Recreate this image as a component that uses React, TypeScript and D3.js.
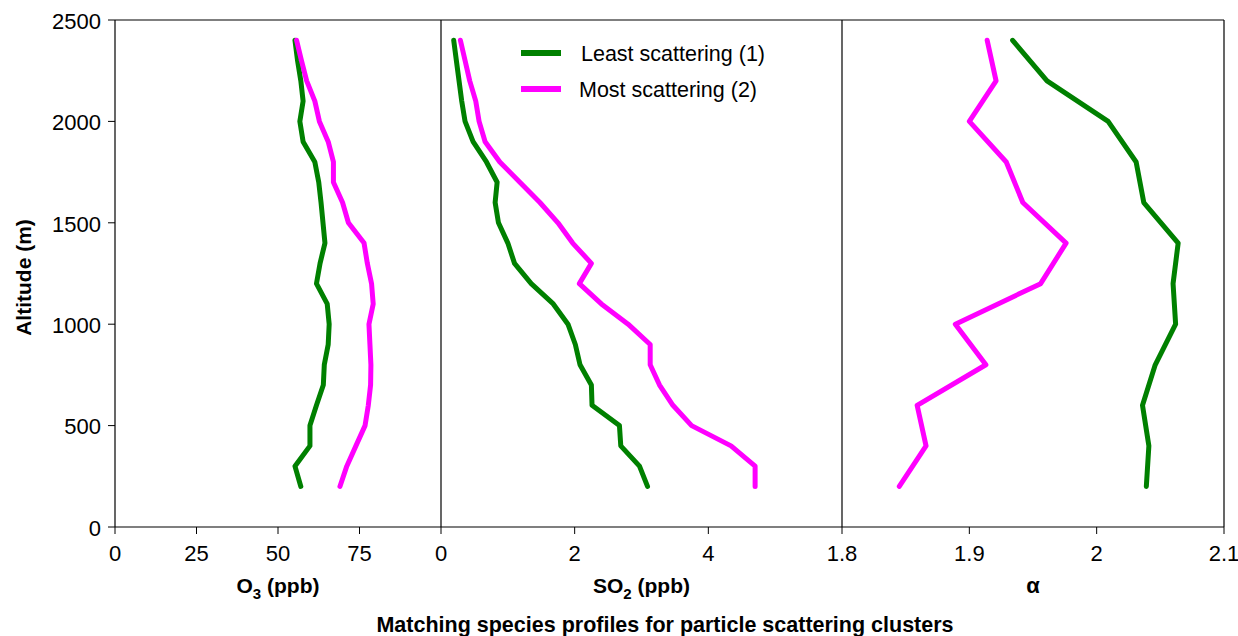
import React from "react";
import * as d3 from "d3";

// Altitude levels (m) for the O3 and SO2 profiles
const altitudes = [200, 300, 400, 500, 600, 700, 800, 900, 1000, 1100, 1200, 1300, 1400, 1500, 1600, 1700, 1800, 1900, 2000, 2100, 2200, 2300, 2400];
// Altitude levels (m) for the Angstrom exponent profiles
const alphaAltitudes = [200, 400, 600, 800, 1000, 1200, 1400, 1600, 1800, 2000, 2200, 2400];

// O3 (ppb)
const o3Least = [57, 55.2, 59.8, 59.8, 61.8, 63.9, 64.2, 65.4, 65.7, 65.1, 61.8, 62.9, 64.4, 63.8, 63.2, 62.5, 61.3, 57.7, 56.7, 57.7, 57.0, 56.0, 55.2];
const o3Most = [69, 71.1, 73.9, 76.7, 77.7, 78.4, 78.5, 78.2, 77.9, 79.2, 78.7, 77.4, 76.4, 71.6, 69.8, 67, 67, 65.4, 62.7, 61.3, 58.8, 57.2, 55.7];

// SO2 (ppb)
const so2Least = [3.09, 2.97, 2.69, 2.67, 2.26, 2.25, 2.08, 2.01, 1.9, 1.68, 1.35, 1.1, 1.0, 0.86, 0.81, 0.84, 0.68, 0.48, 0.36, 0.31, 0.27, 0.23, 0.19];
const so2Most = [4.7, 4.7, 4.34, 3.75, 3.47, 3.27, 3.13, 3.13, 2.8, 2.4, 2.07, 2.25, 1.97, 1.75, 1.48, 1.18, 0.88, 0.66, 0.57, 0.52, 0.43, 0.36, 0.29];

// Angstrom exponent (alpha)
const alphaLeast = [2.039, 2.041, 2.036, 2.046, 2.062, 2.06, 2.064, 2.037, 2.031, 2.009, 1.961, 1.934];
const alphaMost = [1.845, 1.866, 1.859, 1.913, 1.889, 1.956, 1.976, 1.942, 1.929, 1.9, 1.921, 1.914];

const yTicks = [0, 500, 1000, 1500, 2000, 2500];
const o3Ticks = [0, 25, 50, 75];
const so2Ticks = [0, 2, 4];
const alphaTicks = [1.8, 1.9, 2, 2.1];

const seriesNames = ["Least scattering (1)", "Most scattering (2)"];
const seriesColors = ["#008000", "#ff00ff"];

const W = 1238;
const H = 636;
const FONT = "'Liberation Sans', Arial, sans-serif";

const y = d3.scaleLinear().domain([0, 2500]).range([527, 20]);
const xO3 = d3.scaleLinear().domain([0, 100]).range([115, 441]);
const xSO2 = d3.scaleLinear().domain([0, 6]).range([441, 842]);
const xAlpha = d3.scaleLinear().domain([1.8, 2.1]).range([842, 1224]);

function profile(xs: d3.ScaleLinear<number, number>, alts: number[], vals: number[]) {
  const line = d3
    .line<number>()
    .x((v) => xs(v))
    .y((_, i) => y(alts[i]));
  return line(vals) || "";
}

function XTicks({ scale, ticks }: { scale: d3.ScaleLinear<number, number>; ticks: number[] }) {
  return (
    <g>
      {ticks.map((t) => (
        <g key={t} transform={`translate(${scale(t)},${y(0)})`}>
          <line y1={0} y2={7} stroke="#000" strokeWidth={1} />
          <text y={34} textAnchor="middle" fontSize={22} fontFamily={FONT} fill="#000">
            {String(t)}
          </text>
        </g>
      ))}
    </g>
  );
}

export default function App() {
  const panels = [
    { scale: xO3, alts: altitudes, least: o3Least, most: o3Most },
    { scale: xSO2, alts: altitudes, least: so2Least, most: so2Most },
    { scale: xAlpha, alts: alphaAltitudes, least: alphaLeast, most: alphaMost },
  ];
  return (
    <svg
      width={W}
      height={H}
      style={{ position: "absolute", left: 0, top: 0, background: "#fff" }}
    >
      <rect width={W} height={H} fill="#fff" />

      {/* panel frames */}
      <line x1={xO3(0)} x2={xAlpha(2.1)} y1={y(2500)} y2={y(2500)} stroke="#000" strokeWidth={1.2} />
      <line x1={xO3(0)} x2={xAlpha(2.1)} y1={y(0)} y2={y(0)} stroke="#000" strokeWidth={1.2} />
      <line x1={xO3(0)} x2={xO3(0)} y1={y(0)} y2={y(2500)} stroke="#000" strokeWidth={1.2} />
      <line x1={xSO2(0)} x2={xSO2(0)} y1={y(0)} y2={y(2500)} stroke="#000" strokeWidth={1.2} />
      <line x1={xAlpha(1.8)} x2={xAlpha(1.8)} y1={y(0)} y2={y(2500)} stroke="#000" strokeWidth={1.2} />
      <line x1={xAlpha(2.1)} x2={xAlpha(2.1)} y1={y(0)} y2={y(2500)} stroke="#000" strokeWidth={1.2} />

      {/* altitude axis */}
      {yTicks.map((t) => (
        <g key={t} transform={`translate(${xO3(0)},${y(t)})`}>
          <line x1={-7} x2={0} stroke="#000" strokeWidth={1} />
          <text x={-14} dy="0.4em" textAnchor="end" fontSize={22} fontFamily={FONT} fill="#000">
            {String(t)}
          </text>
        </g>
      ))}
      <text
        transform={`translate(31,${(y(0) + y(2500)) / 2 + 4}) rotate(-90)`}
        textAnchor="middle"
        fontSize={21}
        fontWeight="bold"
        fontFamily={FONT}
        fill="#000"
      >
        Altitude (m)
      </text>

      <XTicks scale={xO3} ticks={o3Ticks} />
      <XTicks scale={xSO2} ticks={so2Ticks} />
      <XTicks scale={xAlpha} ticks={alphaTicks} />

      {/* profiles */}
      {panels.map((p, i) => (
        <g key={i} fill="none" strokeWidth={5} strokeLinejoin="round" strokeLinecap="round">
          <path d={profile(p.scale, p.alts, p.least)} stroke={seriesColors[0]} />
          <path d={profile(p.scale, p.alts, p.most)} stroke={seriesColors[1]} />
        </g>
      ))}

      {/* axis titles */}
      <text x={(xO3(0) + xO3(100)) / 2} y={593} textAnchor="middle" fontSize={21} fontWeight="bold" fontFamily={FONT}>
        O<tspan dy={6} fontSize={15}>3</tspan>
        <tspan dy={-6}> (ppb)</tspan>
      </text>
      <text x={(xSO2(0) + xSO2(6)) / 2} y={593} textAnchor="middle" fontSize={21} fontWeight="bold" fontFamily={FONT}>
        SO<tspan dy={6} fontSize={15}>2</tspan>
        <tspan dy={-6}> (ppb)</tspan>
      </text>
      <text x={(xAlpha(1.8) + xAlpha(2.1)) / 2} y={593} textAnchor="middle" fontSize={22} fontWeight="bold" fontFamily={FONT}>
        α
      </text>

      <text x={665} y={632} textAnchor="middle" fontSize={21.5} fontWeight="bold" fontFamily={FONT}>
        Matching species profiles for particle scattering clusters
      </text>

      {/* legend */}
      {seriesNames.map((name, i) => (
        <g key={name} transform={`translate(521,${53 + i * 36})`}>
          <line x1={0} x2={40} stroke={seriesColors[i]} strokeWidth={6} />
          <text x={i === 0 ? 60 : 58} dy="0.36em" fontSize={21.5} fontFamily={FONT} fill="#000">
            {name}
          </text>
        </g>
      ))}
    </svg>
  );
}
